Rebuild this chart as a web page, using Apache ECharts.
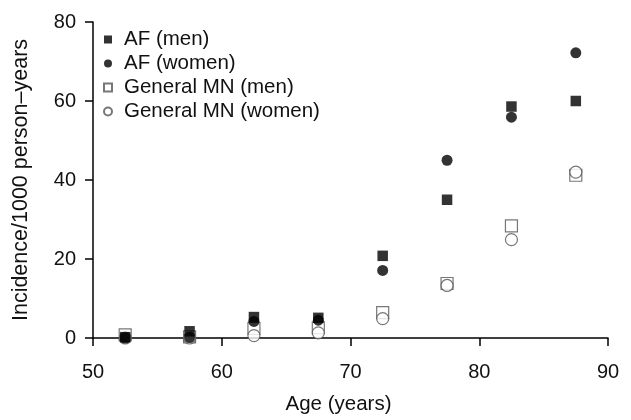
<!DOCTYPE html>
<html>
<head>
<meta charset="utf-8">
<script src="https://cdn.jsdelivr.net/npm/echarts@6/dist/echarts.min.js"></script>
<style>html,body{margin:0;padding:0;background:#fff}#c{width:631px;height:420px}</style>
</head>
<body>
<div id="c"></div>
<script>
const ages = [52.5, 57.5, 62.5, 67.5, 72.5, 77.5, 82.5, 87.5];
const afMen = [0.2, 1.7, 5.3, 5.1, 20.8, 35, 58.6, 60];
const afWomen = [0, 0.1, 4.2, 4.5, 17.1, 45, 55.9, 72.2];
const genMen = [0.8, 0.3, 2.4, 2.6, 6.4, 13.8, 28.4, 41.2];
const genWomen = [0, 0, 0.6, 1.3, 4.9, 13.3, 24.9, 42];
const xTicks = [50, 60, 70, 80, 90];
const yTicks = [0, 20, 40, 60, 80];

const pairs = v => ages.map((a, i) => [a, v[i]]);
const font = 'Liberation Sans, Arial, sans-serif';

const chart = echarts.init(document.getElementById('c'), null, {renderer: 'canvas'});
chart.setOption({
  animation: false,
  backgroundColor: '#fff',
  grid: {left: 93, right: 23, top: 22, bottom: 77},
  legend: {
    orient: 'vertical', left: 98, top: 24, itemGap: 3, padding: 5,
    itemWidth: 8, itemHeight: 8,
    textStyle: {fontFamily: font, fontSize: 20.5, lineHeight: 21, color: '#111', padding: [0,0,0,7]},
    data: [
      {name: 'AF (men)', icon: 'rect', itemStyle: {color: '#000'}},
      {name: 'AF (women)', icon: 'circle'},
      {name: 'General MN (men)', icon: 'rect'},
      {name: 'General MN (women)', icon: 'circle'}
    ]
  },
  xAxis: {
    type: 'value', min: xTicks[0], max: xTicks[xTicks.length - 1], interval: 10,
    name: 'Age (years)', nameLocation: 'middle', nameGap: 56,
    nameTextStyle: {fontFamily: font, fontSize: 20.5, color: '#111', padding: [0, 24, 0, 0]},
    axisLine: {show: true, onZero: false, lineStyle: {color: '#000', width: 1.5}},
    axisTick: {show: true, length: 8, lineStyle: {color: '#000', width: 1.5}},
    axisLabel: {fontFamily: font, fontSize: 20, color: '#111', margin: 24},
    splitLine: {show: false}
  },
  yAxis: {
    type: 'value', min: yTicks[0], max: yTicks[yTicks.length - 1], interval: 20,
    name: 'Incidence/1000 person\u2013years', nameLocation: 'middle', nameGap: 61,
    nameTextStyle: {fontFamily: font, fontSize: 21.5, color: '#111'},
    axisLine: {show: true, onZero: false, lineStyle: {color: '#000', width: 1.5}},
    axisTick: {show: true, length: 8, lineStyle: {color: '#000', width: 1.5}},
    axisLabel: {fontFamily: font, fontSize: 20, color: '#111', margin: 17},
    splitLine: {show: false}
  },
  series: [
    {name: 'General MN (men)', type: 'scatter', symbol: 'rect', symbolSize: 12, z: 2,
     data: pairs(genMen), itemStyle: {color: '#fff', borderColor: '#555', borderWidth: 1.2}},
    {name: 'General MN (women)', type: 'scatter', symbol: 'circle', symbolSize: 12, z: 3,
     data: pairs(genWomen), itemStyle: {color: '#fff', borderColor: '#555', borderWidth: 1.2}},
    {name: 'AF (men)', type: 'scatter', symbol: 'rect', symbolSize: 10.5, z: 4,
     data: pairs(afMen), itemStyle: {color: '#000'}},
    {name: 'AF (women)', type: 'scatter', symbol: 'circle', symbolSize: 11, z: 5,
     data: pairs(afWomen), itemStyle: {color: '#000'}}
  ]
});
</script>
</body>
</html>
